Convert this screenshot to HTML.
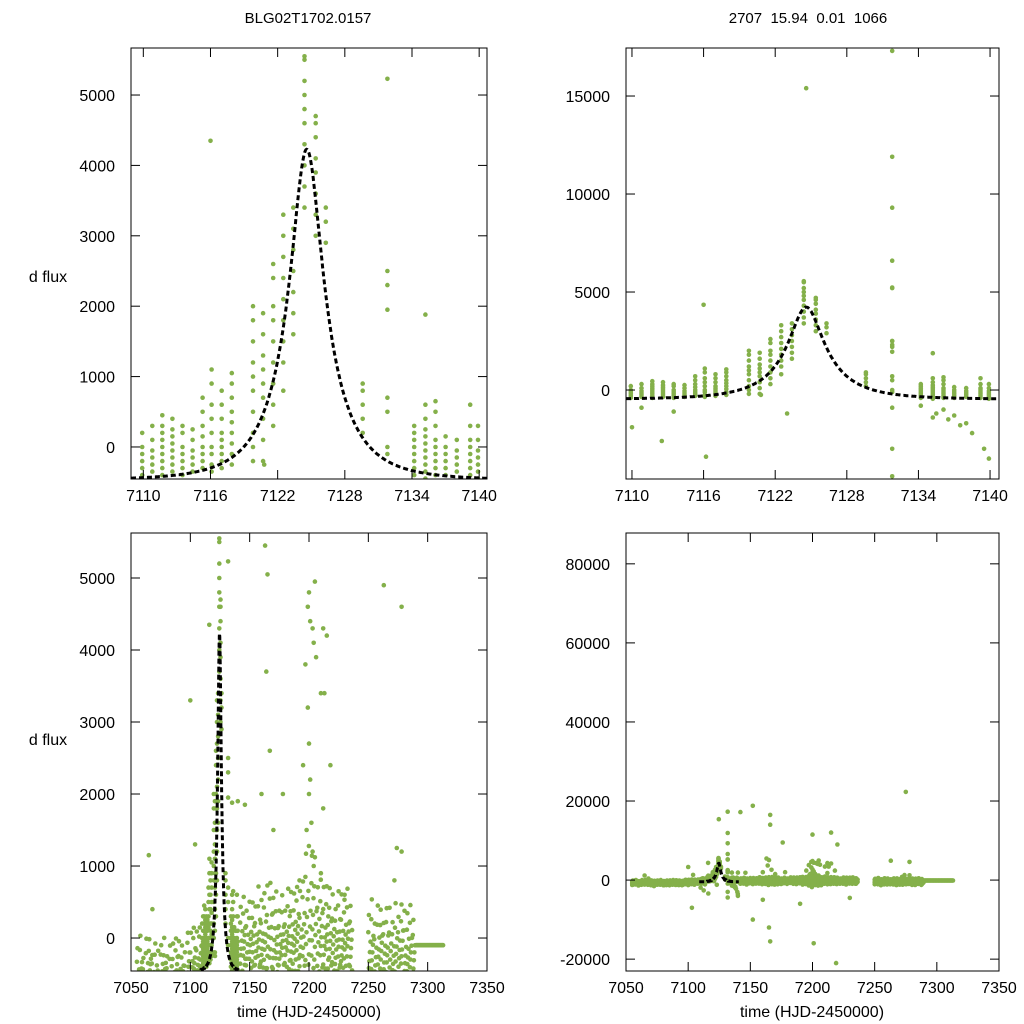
<!DOCTYPE html>
<html><head><meta charset="utf-8"><style>
html,body{margin:0;padding:0;background:#fff}
svg{display:block;font-family:"Liberation Sans",sans-serif}
</style></head><body>
<svg id="fig" width="1024" height="1024" viewBox="0 0 1024 1024" xmlns="http://www.w3.org/2000/svg">
<rect width="1024" height="1024" fill="#fff"/>
<text x="308" y="23" font-size="15" text-anchor="middle">BLG02T1702.0157</text>
<text x="808" y="23" font-size="15" text-anchor="middle" xml:space="preserve">2707  15.94  0.01  1066</text>
<text x="48" y="282" font-size="16" text-anchor="middle">d flux</text>
<text x="48" y="745" font-size="16" text-anchor="middle">d flux</text>
<text x="309" y="1017" font-size="16" text-anchor="middle">time (HJD-2450000)</text>
<text x="812" y="1017" font-size="16" text-anchor="middle">time (HJD-2450000)</text>
</svg>
<script>
// ---- data ----
const modelParams = [7124.6, 5, 0.3, 1922, -470]; // t0, tE, u0, fs, base
const modelRange = [7108.9, 7140.7];
const eventNights = [7109.9,7110.8,7111.7,7112.6,7113.5,7114.4,7115.3,7116.1,7117.0,7117.9,7119.8,7120.7,7121.6,7122.5,7123.4,7124.4,7125.4,7126.3,7129.6,7131.8,7134.2,7135.2,7136.1,7137.0,7138.0,7139.2,7139.9];
const eventFlux = [
[-300,-200,-100,0,200,-400],
[-350,-250,-150,-50,100,300],
[-400,-300,-200,-100,0,100,200,300,450],
[-350,-250,-150,-50,50,150,250,400],
[-400,-300,-200,-100,0,200,300],
[-350,-250,-150,-50,100,250],
[-300,-200,-100,0,150,300,500,700],
[-350,-250,-100,0,200,400,600,900,1100],
[-300,-200,-100,0,100,200,400,600,800],
[-250,-100,50,200,350,500,700,900,1050],
[-200,0,200,500,800,1000,1200,1500,1800,2000],
[-200,100,400,700,900,1100,1300,1600,1900],
[300,600,900,1200,1500,1800,2000,2400,2600],
[800,1200,1500,1800,2100,2400,2700,3000,3300],
[1600,1900,2200,2500,2800,3100,3400],
[3400,3700,4000,4300,4600,4800,5000,5200,5500,5550],
[3000,3300,3600,3900,4100,4400,4600,4700],
[2900,3200,3400],
[200,400,600,800,900],
[1950,2300,2500,5230,500,700,0,-100],
[-400,-300,-200,-100,0,100,200,300],
[-450,-350,-250,-150,-50,50,150,250,400,600,1880],
[-400,-300,-200,-100,0,100,300,500,650],
[-400,-300,-200,-100,0,150],
[-350,-250,-150,-50,100],
[-400,-300,-200,-100,0,100,300,600],
[-450,-350,-250,-150,-50,100,300]];
const eventExtraT = [7116.0,7120.8];
const eventExtraF = [4350,-250];
const trExtraT = [7131.8,7131.8,7131.8,7131.8,7131.8,7131.8,7131.8,7131.8,7131.8,7131.8,7124.6,7116.2,7112.5,7135.5,7136.5,7137.5,7138.5,7139.5,7139.9,7110.0,7123.0,7110.8,7113.5,7134.2,7135.2,7136.1,7137.0,7138.0];
const trExtraF = [17300,11900,9300,6600,5200,2500,2200,-900,-3000,-4400,15400,-3400,-2600,-1200,-1500,-1800,-2200,-3000,-3500,-1900,-1200,-900,-1100,-800,-1400,-1000,-1300,-1700];
// season nights: time, center, spread
const seasonT = [7055,7057.5,7060,7062.5,7065,7067.5,7070,7072.5,7075,7077.5,7080,7082.5,7085,7087.5,7090,7092.5,7095,7097.5,7100,7102.5,7105,7107.5,
 7142,7144.5,7147,7149.5,7152,7154.5,7157,7159.5,7162,7164.5,7167,7169.5,7172,7174.5,7177,7179.5,
 7182,7184.5,7187,7189.5,7192,7194.5,7197,7199.5,7202,7204.5,7207,7209.5,7212,7214.5,7217,7219.5,7222,7224.5,7227,7229.5,7232,7234.5,
 7250,7252.5,7255,7257.5,7260,7262.5,7265,7267.5,7270,7272.5,7275,7277.5,7280,7282.5,7285,7287.5];
const seasonC = [-650,-500,-700,-550,-450,-650,-600,-750,-550,-500,-700,-600,-650,-450,-600,-550,-700,-400,-500,-350,-450,-300,
 -150,-50,-200,-100,-80,-180,-20,-150,-60,-120,0,-170,-90,-200,-40,-130,
 30,-80,-10,60,-120,20,80,-30,120,40,-60,10,-110,50,-40,-90,-160,-20,-130,-70,-10,-140,
 -320,-200,-380,-260,-180,-340,-240,-300,-360,-220,-280,-160,-350,-270,-200,-310];
const seasonS = [700,650,620,700,680,650,720,700,660,650,700,680,700,650,720,700,690,650,700,720,700,700,
 800,760,850,780,900,850,900,830,1000,1100,1200,1000,900,850,820,800,
 900,880,920,950,1000,1200,1500,1600,1500,1400,1200,1100,1000,980,950,900,880,920,900,880,900,920,
 880,900,850,920,900,860,900,880,850,910,900,860,890,900,850,880];
const flatT0 = 7290, flatT1 = 7313, flatF = -100;
const outT = [7065,7068,7100,7104,7140,7146,7163,7165,7164,7167,7178,7195,7197,7199,7200,7201,7203,7204,7205,7206,7199,7200,7201,7202,7203,7204,7200,7198,7212,7215,7210,7213,7218,7212,7263,7278,7274,7278,7272,7160,7170,7192,7210,7230];
const outF = [1150,400,3300,1300,1900,1850,5450,5050,3700,2600,2000,2400,3800,4600,4800,4400,4300,4100,4950,3900,3200,2700,2200,1600,1200,1000,2000,1500,4300,4200,3400,3400,2400,1800,4900,4600,1250,1200,800,2000,1500,800,900,600];
const brOutT = [7167,7275,7152,7142,7166,7166,7215,7200,7220,7176,7103,7152,7166,7167,7201,7219,7165,7140,7160,7190,7230];
const brOutF = [88500,22300,18800,17200,16500,14000,12000,11500,9000,9500,-7000,-10000,-15500,-24000,-16000,-21000,-12000,-4000,-5000,-6000,-4500];
const offsets = [-1,-0.82,-0.63,-0.5,-0.37,-0.25,-0.12,0.0,0.13,0.28,0.47,0.75];
const xTicksZoom = [7110,7116,7122,7128,7134,7140];
const xTicksFull = [7050,7100,7150,7200,7250,7300,7350];
const yTicksTL = [0,1000,2000,3000,4000,5000];
const yTicksTR = [0,5000,10000,15000];
const yTicksBL = [0,1000,2000,3000,4000,5000];
const yTicksBR = [-20000,0,20000,40000,60000,80000];

// ---- drawing ----
const NS="http://www.w3.org/2000/svg";
const svg=document.getElementById('fig');
function el(tag,attrs,parent){const e=document.createElementNS(NS,tag);for(const k in attrs)e.setAttribute(k,attrs[k]);(parent||svg).appendChild(e);return e;}
function model(t){const [t0,tE,u0,fs,b]=modelParams;const tau=(t-t0)/tE;const u=Math.sqrt(u0*u0+tau*tau);const A=(u*u+2)/(u*Math.sqrt(u*u+4));return b+fs*(A-1);}
function eventPts(){const p=[];eventNights.forEach((t,i)=>eventFlux[i].forEach(f=>p.push([t,f])));eventExtraT.forEach((t,i)=>p.push([t,eventExtraF[i]]));return p;}
function seasonPts(){const p=[];const n=offsets.length;
  seasonT.forEach((t,i)=>offsets.forEach((o,j)=>{const k=(j*5+i*7)%n;p.push([t+(k%5)*0.45,seasonC[i]+offsets[k]*seasonS[i]*(0.85+0.06*((i+j)%5))]);}));
  for(let t=flatT0;t<=flatT1;t+=0.5)p.push([t,flatF]);outT.forEach((t,i)=>p.push([t,outF[i]]));return p;}

function panel(name,L,R,T,B,x0,x1,y0,y1,xt,yt,pts){
  const g=el('g',{});
  
  
  const sx=v=>L+(v-x0)/(x1-x0)*(R-L), sy=v=>B-(v-y0)/(y1-y0)*(B-T);
  const cp='clip-'+name;
  const c=el('clipPath',{id:cp},g);el('rect',{x:L,y:T,width:R-L,height:B-T},c);
  const pg=el('g',{'clip-path':'url(#'+cp+')'},g);
  pts.forEach(([t,f])=>{const d=el('circle',{cx:sx(t).toFixed(1),cy:sy(f).toFixed(1),r:2.3,fill:'#84b04a'},pg);
    
    });
  const a=Math.max(x0,modelRange[0]), b=Math.min(x1,modelRange[1]);
  let dd='';const n=600;for(let i=0;i<=n;i++){const t=a+(b-a)*i/n;dd+=(i?'L':'M')+sx(t).toFixed(1)+' '+sy(model(t)).toFixed(1);}
  const m=el('path',{d:dd,fill:'none',stroke:'#000','stroke-width':3,'stroke-dasharray':'5,3'},pg);
  
  
  const fr=el('rect',{x:L,y:T,width:R-L,height:B-T,fill:'none',stroke:'#000','stroke-width':1},g);
  
  
  xt.forEach(v=>{const x=sx(v);el('line',{x1:x,x2:x,y1:B,y2:B-9,stroke:'#000'},g);el('line',{x1:x,x2:x,y1:T,y2:T+9,stroke:'#000'},g);
    const tx=el('text',{x:x,y:B+22,'font-size':16,'text-anchor':'middle'},g);tx.textContent=v;
    
    });
  yt.forEach(v=>{const y=sy(v);el('line',{x1:L,x2:L+9,y1:y,y2:y,stroke:'#000'},g);el('line',{x1:R,x2:R-9,y1:y,y2:y,stroke:'#000'},g);
    const tx=el('text',{x:L-16,y:y+6,'font-size':16,'text-anchor':'end'},g);tx.textContent=v;
    
    });
}
const ev=eventPts();
const trp=ev.concat(trExtraT.map((t,i)=>[t,trExtraF[i]]));
const sea=seasonPts();
panel('panel-zoom-left',131,487,48,479,7108.9,7140.7,-455,5668,xTicksZoom,yTicksTL,ev);
panel('panel-zoom-right',626,999,48,479,7109.5,7140.75,-4540,17450,xTicksZoom,yTicksTR,trp);
panel('panel-full-left',131,487,533,971,7050,7350,-458,5625,xTicksFull,yTicksBL,sea.concat(ev));
panel('panel-full-right',626,999,533,971,7050,7350,-23000,87800,xTicksFull,yTicksBR,sea.concat(trp).concat(brOutT.map((t,i)=>[t,brOutF[i]])));
</script>
</body></html>
